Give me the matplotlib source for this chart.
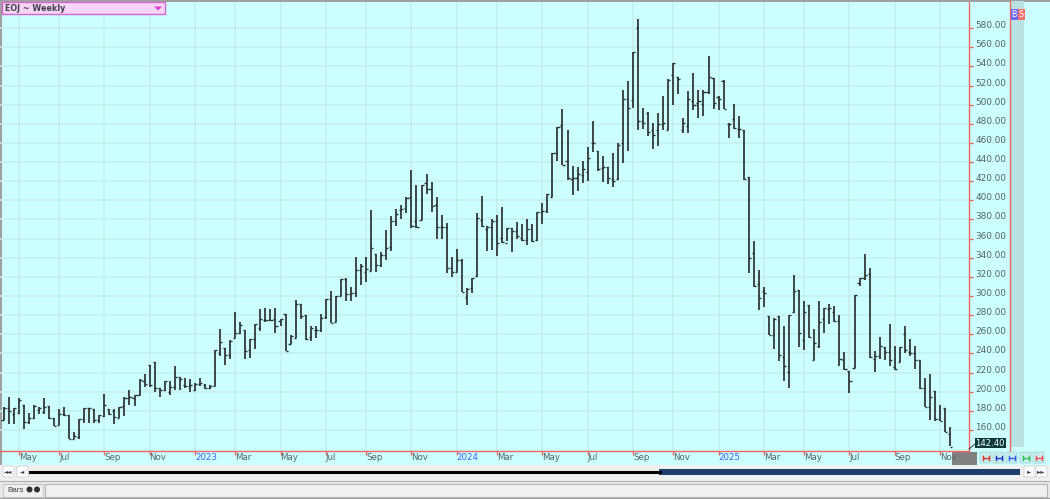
import numpy as np
import matplotlib
matplotlib.use("Agg")
import matplotlib.pyplot as plt
from matplotlib.patches import Rectangle, FancyBboxPatch, Circle, Polygon

opens = [170,183,177,178,186,168,173,181,179,185,
         173,165,177,176,151,153,172,183,182,170,
         175,182,180,173,185,193,193,197,211,228,
         231,204,202,200,205,215,207,206,202,208,
         207,204,206,240,246,238,256,261,264,244,
         255,267,275,275,276,274,281,250,256,292,
         280,257,264,265,278,297,273,300,318,302,
         303,327,325,326,344,332,343,351,378,390,
         392,403,378,379,418,412,395,372,372,329,
         325,338,299,308,321,379,370,372,378,361,
         355,371,368,361,359,370,359,388,389,404,
         449,479,441,422,423,426,430,460,452,434,
         435,422,422,460,506,505,580,483,491,474,
         473,480,474,531,529,473,478,504,502,501,
         513,528,508,525,480,485,475,473,424,345,
         313,305,279,259,279,236,221,283,306,254,
         291,233,248,276,286,283,274,233,222,225,
         314,319,323,234,237,247,242,226,231,260,
         241,240,233,204,184,201,172,183,156]
highs = [184,194,183,193,186,178,186,184,193,185,
         173,182,184,176,158,172,183,183,182,176,
         198,182,182,184,195,202,197,213,219,228,
         231,204,211,211,227,215,214,213,209,214,
         208,207,244,266,246,254,283,273,264,255,
         271,286,287,286,287,276,281,259,296,292,
         280,269,269,281,297,305,300,318,319,309,
         341,333,341,390,344,346,369,384,391,395,
         403,432,416,416,428,419,404,385,376,341,
         349,339,308,319,387,405,373,381,385,393,
         371,371,377,375,380,375,388,397,407,449,
         477,495,474,436,435,441,456,483,452,446,
         435,449,460,515,525,555,589,496,492,481,
         491,509,527,544,529,486,514,533,515,515,
         551,528,509,526,481,501,488,473,424,358,
         327,309,279,277,279,269,280,322,306,295,
         291,266,295,287,292,290,280,242,222,301,
         319,344,329,243,257,247,271,248,247,269,
         255,248,233,214,219,201,186,183,163]
lows = [170,166,166,177,161,166,172,177,177,172,
        164,165,175,151,151,151,167,167,167,167,
        174,176,166,173,175,186,185,197,205,205,
        200,194,201,197,202,202,204,200,201,206,
        203,203,206,237,228,234,256,260,234,235,
        245,263,273,274,261,269,243,250,256,276,
        254,253,256,262,276,272,273,300,295,295,
        299,312,315,326,325,330,338,347,373,380,
        387,371,371,379,407,388,360,360,324,320,
        325,304,291,303,320,372,347,348,342,355,
        357,346,360,358,353,356,357,375,387,404,
        441,437,421,406,410,418,420,451,431,419,
        417,414,421,439,452,497,474,475,467,454,
        457,474,473,500,511,470,470,494,486,488,
        511,495,494,495,465,475,465,421,324,309,
        285,289,259,245,232,211,204,282,247,244,
        256,233,246,261,271,273,227,223,199,225,
        311,317,235,221,234,233,227,223,231,240,
        237,224,203,184,170,169,169,158,143]
closes = [183,180,183,191,168,173,185,183,184,173,
          164,177,176,151,154,172,183,183,170,176,
          186,177,174,184,193,194,197,212,208,207,
          204,202,211,205,215,213,206,207,208,209,
          204,206,244,252,238,253,261,270,243,255,
          271,276,275,275,269,276,243,258,292,279,
          255,267,264,277,297,272,300,318,302,303,
          327,331,328,350,332,343,350,378,386,391,
          402,373,372,416,412,394,372,372,329,325,
          338,304,307,319,382,373,372,378,355,356,
          371,368,363,359,370,358,388,389,407,449,
          477,437,423,423,428,433,444,460,433,435,
          423,420,458,506,497,555,483,481,471,468,
          480,481,526,544,527,481,506,500,504,513,
          529,502,506,495,480,476,475,422,340,311,
          298,303,259,276,238,227,280,305,261,283,
          257,251,273,287,287,274,234,224,211,301,
          319,322,236,237,248,242,233,224,247,244,
          240,233,204,184,194,171,169,158,142.4]

month_labels = ["May","Jul","Sep","Nov","2023","Mar","May","Jul","Sep","Nov","2024",
                "Mar","May","Jul","Sep","Nov","2025","Mar","May","Jul","Sep","Nov"]
month_bars = [3,11,20,29,38,46,55,64,72,81,90,98,107,116,125,133,142,151,159,168,177,186]
price_ticks = np.arange(160, 600, 20)
last_price = 142.40

W, H = 1050, 499
BG = "#CCFFFF"
GRID = "#C6EDED"
RED = "#F06464"
TEXT = "#566262"
BAR = "#2C3030"

fig = plt.figure(figsize=(W / 100, H / 100), dpi=100, facecolor=BG)

# window chrome is drawn in pixel coords on a full figure axes
ui = fig.add_axes([0, 0, 1, 1], zorder=0)
ui.set_xlim(0, W)
ui.set_ylim(H, 0)
ui.axis("off")
ui.add_patch(Rectangle((0, 0), W, 1.5, color="#A0A0A0", lw=0))
ui.add_patch(Rectangle((0, 0), 1.5, 465, color="#A0A0A0", lw=0))
ui.add_patch(Rectangle((1010.5, 1), 13.5, 446, color="#B9E3E3", lw=0))
ui.add_patch(Rectangle((952, 451.5), 25, 13, color="#808080", lw=0))
ui.plot([1010, 1010], [1, 451], color=RED, lw=1)

# price chart
ax = fig.add_axes([0, 48 / H, 969 / W, 449 / H], zorder=1)
ax.set_facecolor("none")
step = 5.035
ax.set_xlim(-3.6 / step, (969 - 3.6) / step)
ax.set_ylim(160 - 21 * 1.045, 160 + 428 * 1.045)
x = np.arange(len(closes))

ax.grid(True, color=GRID, lw=1.1)
ax.set_axisbelow(True)
ax.vlines(x, lows, highs, color=BAR, lw=1.25)
ax.hlines(opens, x - 0.42, x, color=BAR, lw=1.0)
ax.hlines(closes, x, x + 0.42, color=BAR, lw=1.0)

ax.set_xticks(month_bars)
ax.set_xticklabels(month_labels, ha="left")
ax.set_yticks(price_ticks)
ax.set_yticklabels([f"{p:.2f}" for p in price_ticks], va="baseline")
ax.yaxis.tick_right()
ax.tick_params(axis="x", color=RED, length=3, width=1, pad=-1.5, labelsize=6.2, labelcolor=TEXT)
ax.tick_params(axis="y", color=RED, length=3, width=1, pad=1.5, labelsize=6.4, labelcolor=TEXT)
for lab in ax.get_xticklabels():
    if lab.get_text().startswith("20"):
        lab.set_color("#4060FF")
for side in ["top", "left"]:
    ax.spines[side].set_visible(False)
for side in ["bottom", "right"]:
    ax.spines[side].set_color(RED)
    ax.spines[side].set_linewidth(1)

# overlay for the boxes that sit on top of the chart
top = fig.add_axes([0, 0, 1, 1], zorder=2)
top.set_xlim(0, W)
top.set_ylim(H, 0)
top.axis("off")
top.patch.set_alpha(0)

# title box
top.add_patch(Rectangle((2, 2), 163, 12, fc="#F8D4F8", ec="#D864D0", lw=1))
top.text(5, 8.3, "EOJ ~ Weekly", fontsize=5.8, fontweight="bold", color="#40404A", va="center")
top.add_patch(Polygon([[154, 6.5], [162, 6.5], [158, 10.5]], color="#E040D0", lw=0))

# B / S buttons
top.add_patch(Rectangle((1010.5, 9), 7, 11, color="#6A6AF0", lw=0))
top.add_patch(Rectangle((1017.5, 9), 7, 11, color="#F07070", lw=0))
top.text(1014, 14.5, "B", fontsize=5.8, color="white", ha="center", va="center")
top.text(1021, 14.5, "S", fontsize=5.8, color="white", ha="center", va="center")

# last price tag
top.plot([969, 975], [449, 444], color="#405050", lw=0.8)
top.add_patch(Rectangle((974.5, 438), 31, 9.5, color="#0A3A3A", lw=0))
top.text(990, 443, f"{last_price:.2f}", fontsize=6.1, color="white", ha="center", va="center")

# bottom strips
top.add_patch(Rectangle((0, 465), W, 16, color="#F0F0F0", lw=0))
top.add_patch(Rectangle((0, 481), W, 18, color="#E8E8E8", lw=0))
top.plot([0, W], [481, 481], color="#B0B0B0", lw=0.8)
top.plot([0, W], [497.5, 497.5], color="#A0A0A0", lw=1)

# small coloured buttons next to the grey block
for bx, col in zip([980, 993, 1006, 1020, 1033], ["#E03030", "#2030C0", "#3060F0", "#30C050", "#F05050"]):
    top.add_patch(FancyBboxPatch((bx + 1, 453), 9, 9, boxstyle="round,pad=1", fc="#C8ECEC", ec="#A0D8D8", lw=0.6))
    top.plot([bx + 3, bx + 9], [458, 458], color=col, lw=1)
    top.plot([bx + 3, bx + 3], [455.5, 460], color=col, lw=1)
    top.plot([bx + 9, bx + 9], [455.5, 460], color=col, lw=1)

# scroll bar
top.plot([30, 660], [471.5, 471.5], color="black", lw=2.2)
top.add_patch(Rectangle((659, 469), 361, 6, color="#1F3F6F", lw=0))
for bx, glyph in zip([3, 17, 1024, 1036], ["\u25c4\u25c4", "\u25c4", "\u25ba", "\u25ba\u25ba"]):
    top.add_patch(FancyBboxPatch((bx + 1, 467), 9, 9, boxstyle="round,pad=1", fc="white", ec="#D0D0D0", lw=0.6))
    top.text(bx + 5.5, 471.5, glyph, fontsize=4, color="#404040", ha="center", va="center")

# Bars row
top.add_patch(Rectangle((3, 484), 40, 13, fc="#F0F0F0", ec="#C8C8C8", lw=0.8))
top.add_patch(Rectangle((45, 484), 1002, 13, fc="#F0F0F0", ec="#B8B8B8", lw=0.8))
top.text(7, 490, "Bars", fontsize=5.8, family="Liberation Sans", color="#404040", va="center")
top.add_patch(Circle((29.5, 489.5), 3, color="#303030", lw=0))
top.add_patch(Circle((37, 489.5), 3, color="#303030", lw=0))

fig.savefig("out.png", dpi=100, facecolor=BG)
